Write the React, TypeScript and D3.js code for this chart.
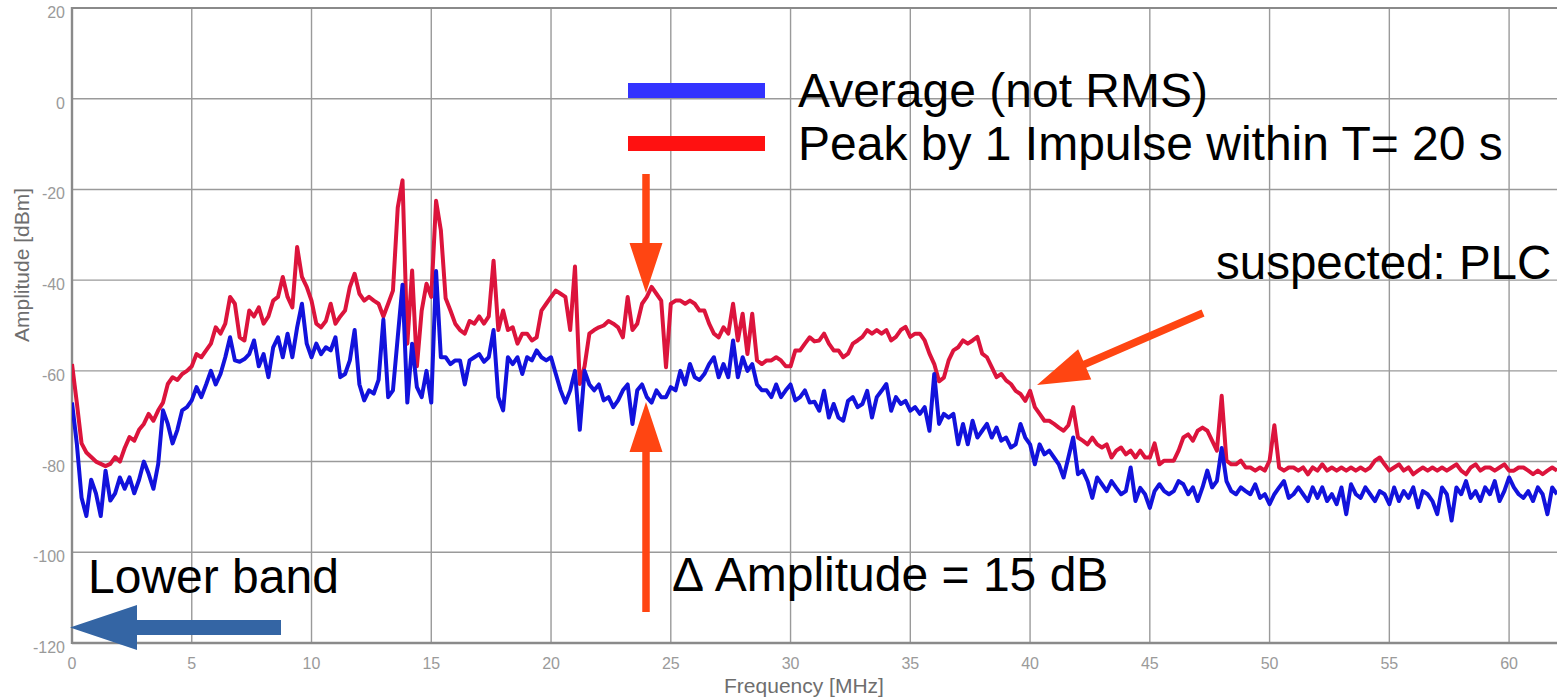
import React from "react";
import * as d3 from "d3";

// ---------- data ----------
const FREQ_STEP_MHZ = 0.2; // samples every 0.2 MHz from 0 to 62 MHz

const peakDbm: number[] = [
  -58.5, -67, -76, -78, -79, -80, -80.5, -81, -80.5, -79,
  -80, -77, -74.6, -75.4, -73, -71.7, -69.5, -71, -68.7, -67,
  -62.9, -61.4, -62, -60.7, -60, -59, -56.3, -57, -55.5, -54,
  -50.4, -51.8, -49.6, -43.7, -45.2, -52.6, -53.3, -46.7, -48, -46,
  -49.6, -48, -44.5, -43.7, -39.3, -43.7, -46, -32.7, -39.3, -41.5,
  -44.5, -49.6, -50.4, -49, -45.2, -49.6, -48, -46.7, -41.5, -38.6,
  -43, -44.5, -43.7, -44.5, -45.2, -48, -45.2, -42.3, -24, -18,
  -54, -37.9, -59, -46.7, -40.8, -43.7, -22.5, -29, -44, -46.7,
  -49.6, -51, -51.8, -49, -49.6, -48, -49.6, -48, -35.7, -51,
  -46.7, -51, -50.4, -54, -51.8, -51.8, -53.3, -52.6, -46.7, -45.2,
  -43.7, -42.3, -43, -43.7, -51, -37, -62.9, -59, -51.8, -51,
  -50.4, -50, -49, -49.6, -50.4, -52.6, -43.7, -51, -49.6, -45.2,
  -43.7, -41.5, -43, -44.5, -59.2, -45.2, -44.5, -44.5, -45.2, -44.5,
  -45.2, -46.7, -46.7, -49.6, -51.8, -52.6, -50.4, -51.8, -45.2, -53.3,
  -47.4, -56.3, -47.4, -57.7, -58.5, -57.7, -57.7, -57, -57.7, -59,
  -59, -55.5, -55.5, -54, -52.6, -53.5, -53.3, -51.8, -54, -55.5,
  -55.5, -57, -56.2, -54, -53.3, -52.5, -51, -51.8, -51, -51.8,
  -51, -53.3, -52.5, -51, -50.3, -52.5, -51.8, -51.8, -53.3, -56.2,
  -58.5, -62.3, -61.5, -57.7, -55.5, -54.8, -53.3, -54, -53.3, -52.5,
  -56.2, -57, -59.2, -61.4, -60.7, -62.1, -62.9, -64.4, -65.1, -66.6,
  -64.4, -68, -69.5, -71, -71, -71.7, -72.5, -73.2, -72, -68,
  -74.7, -75.4, -76.2, -74.7, -76.2, -76.9, -76.2, -79.1, -77.6, -76.9,
  -78.4, -77.6, -79.1, -77.6, -79.1, -79.1, -76, -80.6, -79.8, -79.8,
  -79.8, -77.6, -74.7, -74, -75.4, -73.2, -72.5, -73.2, -75.4, -77.6,
  -65.5, -79.8, -80.6, -80.6, -79.8, -81.3, -81.3, -82, -81.3, -82,
  -79.8, -72, -81.3, -82, -81.3, -81.3, -82, -81.3, -82.8, -81.3,
  -82, -80.6, -82, -81.3, -82, -81.3, -82, -81.3, -82, -81.3,
  -82, -81.3, -79.8, -79.1, -80.6, -82, -81.3, -80.6, -82, -81.3,
  -82.8, -82, -81.3, -82, -81.3, -82, -81.3, -82, -81.3, -80.6,
  -82, -82.8, -81.3, -80.6, -82, -81.3, -81.3, -82, -81.3, -80.6,
  -82, -82, -81.3, -81.3, -82, -82.8, -82, -82.8, -82, -81.3,
  -82,
];

const averageDbm: number[] = [
  -67, -76, -88, -92, -84, -87, -92, -82, -88.6, -87,
  -83.5, -86, -83.5, -87, -84, -80, -82.7, -86, -80.5, -68.7,
  -71.7, -76, -73, -68.7, -68, -66.5, -63.6, -65.8, -63, -60,
  -63, -60.7, -57, -52.6, -57.7, -58, -57.4, -56.3, -53.3, -59,
  -56.3, -61.4, -54.8, -52.6, -57, -51.8, -57, -50.4, -45.2, -54,
  -57, -54, -56.3, -54.8, -55.5, -52.6, -61.4, -60.7, -57.7, -51,
  -63, -66.5, -64.3, -65, -62, -48.7, -65.8, -64.3, -52.6, -41,
  -67, -54, -63.6, -65.8, -60, -67, -38, -57, -57, -58.5,
  -57.7, -57.7, -63, -57.7, -57, -56.3, -58, -57, -51, -65.8,
  -68.7, -57, -58.5, -57, -60.7, -57, -57.7, -55.5, -57, -57.7,
  -57, -60.7, -64.3, -67, -64.3, -60, -73, -60, -63, -64.3,
  -63, -66.5, -65.8, -68, -66.5, -64.3, -63, -71.7, -64.3, -63,
  -65.8, -67, -64.3, -65.8, -65.8, -63.6, -64.3, -60, -63, -58.5,
  -61.4, -62, -60.7, -58.5, -57, -61.4, -58.5, -61.4, -53.3, -61.4,
  -57, -60, -58.5, -63, -64.3, -64.3, -65.8, -63, -65.8, -64.3,
  -63, -66.5, -65.8, -64.3, -67, -66.8, -68.8, -64.4, -70.3, -67.3,
  -70.3, -71, -66.6, -65.8, -68, -67.3, -64.4, -70.3, -65.8, -64.4,
  -62.9, -68.8, -65.8, -67.3, -66.6, -68.8, -68, -69.5, -68, -73.2,
  -60.7, -71.7, -69.5, -70.3, -69.5, -76.2, -71.7, -76.2, -71, -74.7,
  -73.2, -71.7, -74.7, -72.5, -75.4, -74.7, -76.9, -76.2, -71.7, -74.7,
  -76.2, -80.6, -76.2, -78.4, -77.6, -79.1, -80.6, -83.5, -79.1, -74.7,
  -82.8, -82, -84.3, -88, -83.5, -85, -86.5, -84.3, -85.8, -87.2,
  -86.5, -81.3, -88.7, -85.8, -87.2, -90.2, -86.5, -85, -86.5, -87.2,
  -86.5, -84.3, -85, -87.2, -85.7, -88.7, -85.7, -82, -85.7, -84.3,
  -77, -84.3, -86.5, -87.2, -85.7, -86.5, -87.2, -85, -88, -87.2,
  -89.4, -87.2, -85.7, -84.3, -88, -87.2, -85.7, -87.2, -88.7, -85.7,
  -88, -85.7, -88.7, -87.2, -89.4, -85.7, -91.6, -85, -87.2, -88,
  -85.7, -87.2, -88.7, -86.5, -87.2, -89.4, -85.7, -88.7, -86.5, -88,
  -85.7, -90.1, -86.5, -87.2, -88.7, -91.6, -85.7, -87.2, -93, -85.7,
  -87.2, -84.3, -88, -86.5, -88.7, -85.7, -87.2, -84.3, -88.7, -86.5,
  -83.5, -85.7, -87.2, -88, -86.5, -88.7, -85.7, -87.2, -91.6, -85.7,
  -87.2,
];

const xTicks = [0, 5, 10, 15, 20, 25, 30, 35, 40, 45, 50, 55, 60];
const yTicks = [20, 0, -20, -40, -60, -80, -100, -120];

const legendLabels = ["Average (not RMS)", "Peak by 1 Impulse within T= 20 s"];
const annotationTexts = {
  plc: "suspected: PLC",
  lower: "Lower band",
  delta: "\u0394 Amplitude = 15 dB",
};

// ---------- layout ----------
const W = 1557;
const H = 698;
const plotLeft = 72;
const plotRight = 1557;
const plotTop = 8;
const plotBottom = 643;

const FONT = "'Liberation Sans', Arial, Helvetica, sans-serif";
const ORANGE = "#ff4512";

export default function App() {
  const x = d3.scaleLinear().domain([0, 62]).range([plotLeft, plotRight]);
  const y = d3.scaleLinear().domain([-120, 20]).range([plotBottom, plotTop]);

  const line = d3
    .line<number>()
    .x((_, i) => x(i * FREQ_STEP_MHZ))
    .y((d) => y(d));

  const arrowPoly = (
    x1: number, y1: number, x2: number, y2: number,
    shaft: number, headW: number, headL: number
  ) => {
    const dx = x2 - x1, dy = y2 - y1;
    const len = Math.hypot(dx, dy);
    const ux = dx / len, uy = dy / len;
    const px = -uy, py = ux;
    const bx = x2 - ux * headL, by = y2 - uy * headL;
    const pts = [
      [x1 + px * shaft / 2, y1 + py * shaft / 2],
      [bx + px * shaft / 2, by + py * shaft / 2],
      [bx + px * headW / 2, by + py * headW / 2],
      [x2, y2],
      [bx - px * headW / 2, by - py * headW / 2],
      [bx - px * shaft / 2, by - py * shaft / 2],
      [x1 - px * shaft / 2, y1 - py * shaft / 2],
    ];
    return pts.map((p) => p.join(",")).join(" ");
  };

  return (
    <svg
      width={W}
      height={H}
      style={{ position: "absolute", left: 0, top: 0, background: "#fff" }}
      fontFamily={FONT}
    >
      <defs>
        <clipPath id="plotClip">
          <rect x={plotLeft} y={plotTop - 2} width={plotRight - plotLeft} height={plotBottom - plotTop + 4} />
        </clipPath>
      </defs>

      {/* grid */}
      {xTicks.filter((t) => t > 0).map((t) => (
        <line key={"gx" + t} x1={x(t)} x2={x(t)} y1={plotTop} y2={plotBottom} stroke="#9a9a9a" strokeWidth={1.4} />
      ))}
      {yTicks.filter((t) => t > -120 && t < 20).map((t) => (
        <line key={"gy" + t} x1={plotLeft} x2={plotRight} y1={y(t)} y2={y(t)} stroke="#9a9a9a" strokeWidth={1.4} />
      ))}
      {/* frame */}
      <line x1={plotLeft} x2={plotRight} y1={y(20)} y2={y(20)} stroke="#8a8a8a" strokeWidth={2.2} />
      <line x1={plotLeft} x2={plotRight} y1={plotBottom} y2={plotBottom} stroke="#8a8a8a" strokeWidth={2.4} />
      <line x1={plotLeft} x2={plotLeft} y1={plotTop - 1} y2={plotBottom + 1} stroke="#8a8a8a" strokeWidth={2.4} />

      {/* tick labels */}
      {yTicks.map((t) => (
        <text key={"ty" + t} x={65} y={y(t) + 10} textAnchor="end" fontSize={16} fill="#9a9a9a">
          {t}
        </text>
      ))}
      {xTicks.map((t) => (
        <text key={"tx" + t} x={x(t)} y={669} textAnchor="middle" fontSize={16} fill="#9a9a9a">
          {t}
        </text>
      ))}

      {/* axis titles */}
      <text x={804} y={693} textAnchor="middle" fontSize={21} fill="#6e6e6e">
        Frequency [MHz]
      </text>
      <text
        transform={`translate(29, 265) rotate(-90)`}
        textAnchor="middle"
        fontSize={21}
        fill="#6e6e6e"
      >
        Amplitude [dBm]
      </text>

      {/* series */}
      <g clipPath="url(#plotClip)">
        <path d={line(peakDbm) ?? ""} fill="none" stroke="#dc143c" strokeWidth={4} strokeLinejoin="round" />
        <path d={line(averageDbm) ?? ""} fill="none" stroke="#1212dc" strokeWidth={4} strokeLinejoin="round" />
      </g>

      {/* legend */}
      <rect x={628} y={83} width={137} height={15} fill="#3333ff" />
      <rect x={628} y={136} width={137} height={15} fill="#ff1111" />
      <text x={798} y={107} fontSize={48} fill="#000">{legendLabels[0]}</text>
      <text x={798} y={160} fontSize={48} fill="#000">{legendLabels[1]}</text>

      {/* annotations */}
      <text x={1216} y={279} fontSize={47.5} fill="#000">{annotationTexts.plc}</text>
      <text x={88} y={593} fontSize={48} fill="#000">{annotationTexts.lower}</text>
      <text x={672} y={591} fontSize={48} fill="#000">{annotationTexts.delta}</text>

      {/* arrows */}
      <polygon points={arrowPoly(646, 174, 646, 293, 7.5, 33, 50)} fill={ORANGE} />
      <polygon points={arrowPoly(646, 612, 646, 402, 7.5, 33, 50)} fill={ORANGE} />
      <polygon points={arrowPoly(1203, 313, 1037, 385, 7.5, 33, 52)} fill={ORANGE} />
      <polygon points={arrowPoly(281, 627.5, 70, 627.5, 15, 45, 67)} fill="#3465a4" />
    </svg>
  );
}
